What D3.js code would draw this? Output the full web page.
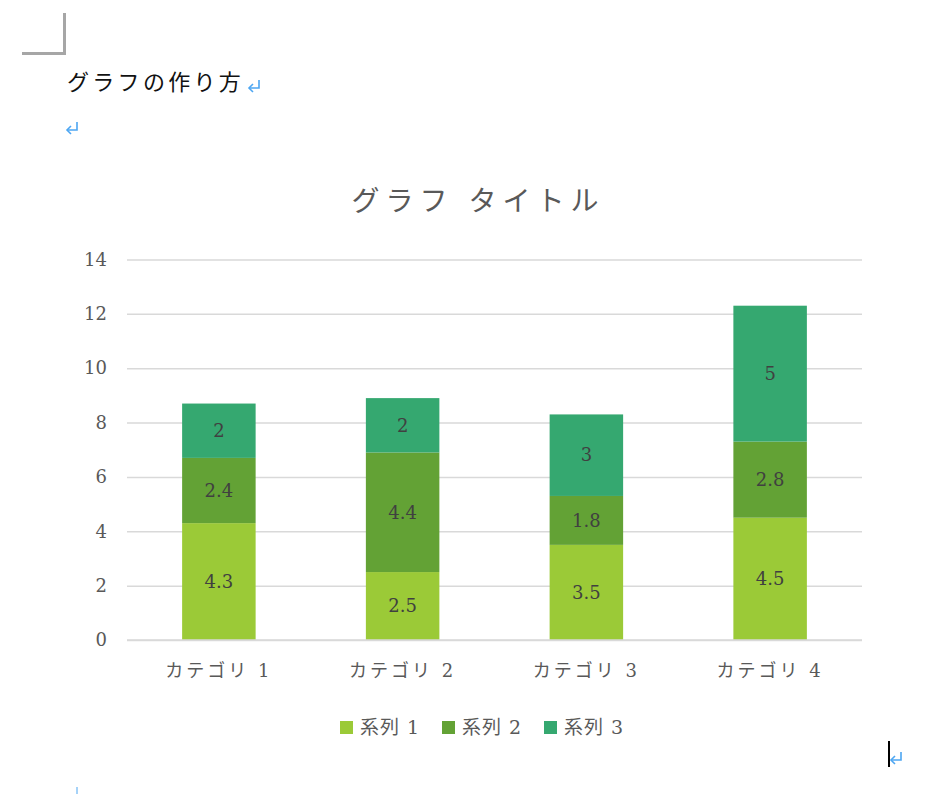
<!DOCTYPE html>
<html><head><meta charset="utf-8">
<script src="https://cdn.jsdelivr.net/npm/d3@7"></script>
<style>body{margin:0;background:#fff;} svg{display:block;}</style>
</head><body>
<svg id="c" width="940" height="794"></svg>
<script>
const categories = ["カテゴリ 1","カテゴリ 2","カテゴリ 3","カテゴリ 4"];
const seriesNames = ["系列 1","系列 2","系列 3"];
const series1 = [4.3, 2.5, 3.5, 4.5];
const series2 = [2.4, 4.4, 1.8, 2.8];
const series3 = [2, 2, 3, 5];
const yTicks = [0,2,4,6,8,10,12,14];
const colors = ["#9BCA37","#63A235","#35A870"];

const rows = categories.map((c,i)=>({cat:c, s0:series1[i], s1:series2[i], s2:series3[i]}));
const stack = d3.stack().keys(["s0","s1","s2"])(rows);

const svg = d3.select("#c");
const serif = "'DejaVu Serif','Liberation Serif','Noto Sans CJK JP',serif";
const x = d3.scaleBand().domain(categories).range([127,862]).paddingInner(0.6).paddingOuter(0.3);
const y = d3.scaleLinear().domain([0,14]).range([640,259.5]);

// page decorations
svg.append("path").attr("d","M22,53.5H64.5V13").attr("fill","none").attr("stroke","#A6A6A6").attr("stroke-width",3);
svg.append("text").attr("x",67).attr("y",90).attr("font-family","'Noto Sans CJK JP',sans-serif")
  .attr("font-size",22).attr("letter-spacing",3.3).attr("fill","#111").text("グラフの作り方");
function ret(x0,y0){
  const g=svg.append("g").attr("transform",`translate(${x0},${y0})`).attr("stroke","#4DA6F2").attr("fill","none").attr("stroke-width",1.6);
  g.append("path").attr("d","M11,0V8H1");
  g.append("path").attr("d","M5,4L1,8L5,12");
}
ret(248,80); ret(66,122); ret(890,752);
svg.append("line").attr("x1",889).attr("x2",889).attr("y1",741).attr("y2",767).attr("stroke","#000").attr("stroke-width",2);
svg.append("line").attr("x1",77).attr("x2",77).attr("y1",787).attr("y2",794).attr("stroke","#4DA6F2").attr("stroke-width",1);

// title
svg.append("text").attr("x",478).attr("y",211).attr("text-anchor","middle").attr("font-family",serif)
  .attr("font-size",28).attr("letter-spacing",6).attr("fill","#595959").text("グラフ タイトル");

// gridlines
const yAxis = d3.axisLeft(y).tickValues(yTicks).tickSize(-(862-127)).tickPadding(20);
const ga = svg.append("g").attr("transform","translate(127,0)").call(yAxis);
ga.select(".domain").remove();
ga.selectAll(".tick line").attr("stroke","#D9D9D9").attr("stroke-width",1.5);
ga.selectAll(".tick text").attr("font-family",serif).attr("font-size",18).attr("fill","#595959");

// bars
const groups = svg.append("g").selectAll("g").data(stack).join("g").attr("fill",(d,i)=>colors[i]);
groups.selectAll("rect").data(d=>d).join("rect")
  .attr("x",d=>x(d.data.cat)).attr("width",x.bandwidth())
  .attr("y",d=>y(d[1])).attr("height",d=>y(d[0])-y(d[1]));
const labels = svg.append("g");
stack.forEach((s,si)=>{
  s.forEach((d)=>{
    labels.append("text").attr("x",x(d.data.cat)+x.bandwidth()/2).attr("y",(y(d[0])+y(d[1]))/2)
      .attr("dy","0.35em").attr("text-anchor","middle").attr("font-family",serif).attr("font-size",18)
      .attr("fill","#404040").text(d[1]-d[0] ? +(d[1]-d[0]).toFixed(1) : "");
  });
});

// x-axis baseline
svg.append("line").attr("x1",127).attr("x2",862).attr("y1",y(0)).attr("y2",y(0)).attr("stroke","#D9D9D9").attr("stroke-width",1.5);
const xa = svg.append("g").attr("transform",`translate(0,${y(0)})`).call(d3.axisBottom(x).tickSize(0).tickPadding(24));
xa.select(".domain").remove();
xa.selectAll(".tick text").attr("font-family",serif).attr("font-size",18).attr("letter-spacing",3).attr("fill","#595959");

// legend
const legX = [340, 442, 544];
seriesNames.forEach((n,i)=>{
  svg.append("rect").attr("x",legX[i]).attr("y",721).attr("width",13).attr("height",13).attr("fill",colors[i]);
  svg.append("text").attr("x",legX[i]+20).attr("y",734).attr("font-family",serif).attr("font-size",19).attr("letter-spacing",1).attr("fill","#595959").text(n);
});
</script>
</body></html>
